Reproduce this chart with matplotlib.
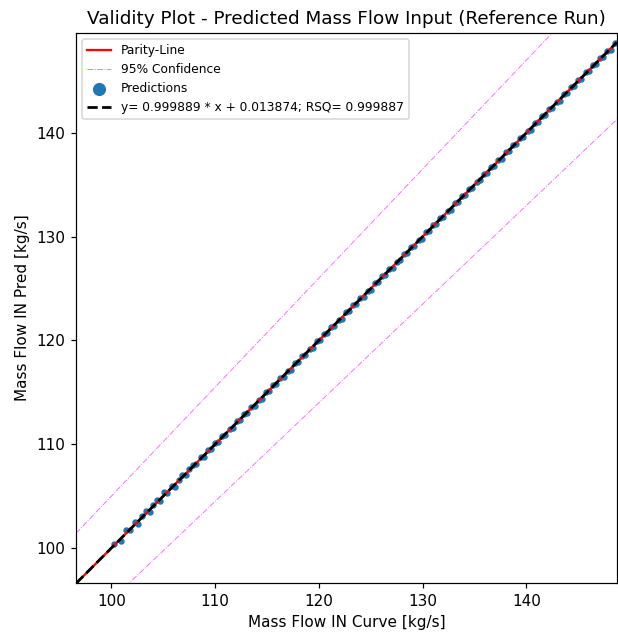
import numpy as np
import matplotlib
matplotlib.use('Agg')
import matplotlib.pyplot as plt

# Mass flow values (kg/s)
curve_flow = [100.3, 100.9, 101.4, 101.8, 102.3, 102.6, 103.0, 103.3, 103.7, 104.0,
              104.4, 104.7, 105.1, 105.4, 105.8, 106.1, 106.5, 106.8, 107.2, 107.5,
              107.9, 108.2, 108.6, 108.9, 109.3, 109.6, 110.0, 110.3, 110.7, 111.0,
              111.4, 111.7, 112.1, 112.4, 112.8, 113.1, 113.5, 113.8, 114.2, 114.5,
              114.9, 115.2, 115.6, 115.9, 116.3, 116.6, 117.0, 117.3, 117.7, 118.0,
              118.4, 118.7, 119.1, 119.4, 119.8, 120.1, 120.5, 120.8, 121.2, 121.5,
              121.9, 122.2, 122.6, 122.9, 123.3, 123.6, 124.0, 124.3, 124.7, 125.0,
              125.4, 125.7, 126.1, 126.4, 126.8, 127.1, 127.5, 127.8, 128.2, 128.5,
              128.9, 129.2, 129.6, 129.9, 130.3, 130.6, 131.0, 131.3, 131.7, 132.0,
              132.4, 132.7, 133.1, 133.4, 133.8, 134.1, 134.5, 134.8, 135.2, 135.5,
              135.9, 136.2, 136.6, 136.9, 137.3, 137.6, 138.0, 138.3, 138.7, 139.0,
              139.4, 139.7, 140.1, 140.4, 140.8, 141.1, 141.5, 141.8, 142.2, 142.5,
              142.9, 143.2, 143.6, 143.9, 144.3, 144.6, 145.0, 145.3, 145.7, 146.0,
              146.4, 146.7, 147.1, 147.4, 147.8, 148.1, 148.5]
pred_flow = [100.4, 100.7, 101.7, 101.7, 102.5, 102.3, 103.1, 103.6, 103.5, 104.2,
             104.6, 104.5, 105.4, 105.3, 106.0, 105.9, 106.6, 107.0, 107.0, 107.6,
             108.0, 108.1, 108.75, 108.8, 109.45, 109.5, 110.1, 110.2, 110.8, 110.9,
             111.5, 111.6, 112.2, 112.3, 112.9, 113.0, 113.6, 113.7, 114.3, 114.4,
             115.0, 115.1, 115.7, 115.8, 116.4, 116.5, 117.1, 117.2, 117.8, 117.9,
             118.5, 118.6, 119.2, 119.3, 119.9, 120.0, 120.6, 120.7, 121.3, 121.4,
             122.0, 122.1, 122.7, 122.8, 123.4, 123.5, 124.1, 124.2, 124.8, 124.9,
             125.5, 125.6, 126.2, 126.3, 126.9, 127.0, 127.6, 127.7, 128.3, 128.4,
             129.0, 129.1, 129.7, 129.8, 130.4, 130.5, 131.1, 131.2, 131.8, 131.9,
             132.5, 132.6, 133.2, 133.3, 133.9, 134.0, 134.6, 134.7, 135.3, 135.4,
             136.0, 136.1, 136.7, 136.8, 137.4, 137.5, 138.1, 138.2, 138.8, 138.9,
             139.5, 139.6, 140.2, 140.3, 140.9, 141.0, 141.6, 141.7, 142.3, 142.4,
             143.0, 143.1, 143.7, 143.8, 144.4, 144.5, 145.1, 145.2, 145.8, 145.9,
             146.5, 146.6, 147.2, 147.3, 147.9, 148.0, 148.6]

fit_slope = 0.999889
fit_intercept = 0.013874
fit_rsq = 0.999887
conf_pct = 0.05

x_limits = [96.6, 148.7]
y_limits = [96.65, 149.6]

fig = plt.figure(figsize=(618 / 110, 635 / 110), dpi=110)
axes = fig.add_axes([0.123, 0.082, 0.875, 0.866])

xs = np.array(x_limits)
axes.plot(xs, xs, color='red', linewidth=1.5, label='Parity-Line', zorder=3)
axes.plot(xs, xs * (1 + conf_pct), color='magenta', linestyle='-.',
          linewidth=0.6, alpha=0.6, label='95% Confidence')
axes.plot(xs, xs * (1 - conf_pct), color='magenta', linestyle='-.',
          linewidth=0.6, alpha=0.6)
axes.scatter(curve_flow, pred_flow, s=10, color='#1f77b4',
             label='Predictions', zorder=2)
fit_label = 'y= %f * x + %f; RSQ= %f' % (fit_slope, fit_intercept, fit_rsq)
axes.plot(xs, fit_slope * xs + fit_intercept, color='black', linestyle='--',
          linewidth=1.8, label=fit_label, zorder=4)

axes.set_xlim(x_limits)
axes.set_ylim(y_limits)
axes.set_xticks([100, 110, 120, 130, 140])
axes.set_yticks([100, 110, 120, 130, 140])
axes.set_xlabel('Mass Flow IN Curve [kg/s]')
axes.set_ylabel('Mass Flow IN Pred [kg/s]')
axes.set_title('Validity Plot - Predicted Mass Flow Input (Reference Run)')
axes.legend(loc='upper left', fontsize=8, markerscale=2.4)

fig.savefig('out.png', dpi=110)
